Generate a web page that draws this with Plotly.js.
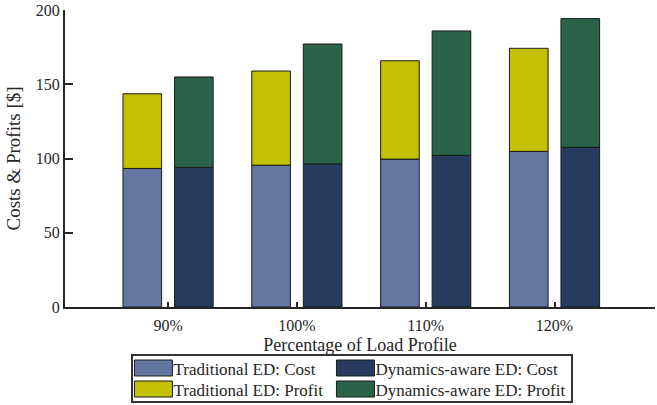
<!DOCTYPE html>
<html>
<head>
<meta charset="utf-8">
<script src="https://cdn.plot.ly/plotly-3.0.1.min.js"></script>
<style>html,body{margin:0;padding:0;background:#fff;}#chart{width:657px;height:405px;}</style>
</head>
<body>
<div id="chart"></div>
<script>
const categories = ["90%", "100%", "110%", "120%"];
const tradCost = [93.3, 95.5, 99.6, 104.8];
const tradProfit = [50.3, 63.4, 66.2, 69.4];
const dynCost = [94.0, 96.4, 102.1, 107.5];
const dynProfit = [60.9, 80.7, 83.8, 86.7];
const seriesNames = ["Traditional ED: Cost", "Dynamics-aware ED: Cost", "Traditional ED: Profit", "Dynamics-aware ED: Profit"];
const colors = ["#6477a0", "#273a60", "#c2c000", "#2a6349"];

const xIdx = categories.map((_, i) => i);
const W = 0.30, OFF_T = -0.35, OFF_D = 0.05;
const line = {color: "#1a1a1a", width: 1};

const traces = [
  {type: "bar", name: seriesNames[0], x: xIdx, y: tradCost, width: W, offset: OFF_T, marker: {color: colors[0], line: line}},
  {type: "bar", name: seriesNames[1], x: xIdx, y: dynCost, width: W, offset: OFF_D, marker: {color: colors[1], line: line}},
  {type: "bar", name: seriesNames[2], x: xIdx, y: tradProfit, base: tradCost, width: W, offset: OFF_T, marker: {color: colors[2], line: line}},
  {type: "bar", name: seriesNames[3], x: xIdx, y: dynProfit, base: dynCost, width: W, offset: OFF_D, marker: {color: colors[3], line: line}}
];

const font = "Liberation Serif, DejaVu Serif, serif";
const layout = {
  width: 657, height: 405,
  margin: {l: 65, r: 2, t: 10, b: 98, autoexpand: false},
  barmode: "overlay",
  showlegend: true,
  font: {family: font, color: "#262626"},
  paper_bgcolor: "#fff", plot_bgcolor: "#fff",
  xaxis: {
    range: [-0.8, 3.78],
    tickvals: xIdx, ticktext: categories,
    ticks: "inside", ticklen: 5, tickwidth: 2, tickcolor: "#262626",
    showline: true, linecolor: "#262626", linewidth: 2,
    showgrid: false, zeroline: false, automargin: false,
    ticklabelstandoff: 3,
    tickfont: {size: 16, family: font},
    title: {text: "Percentage of Load Profile", font: {size: 18, family: font}, standoff: 5}
  },
  yaxis: {
    range: [0, 200],
    tickvals: [0, 50, 100, 150, 200],
    ticks: "inside", ticklen: 8, tickwidth: 2, tickcolor: "#262626",
    showline: true, linecolor: "#262626", linewidth: 2,
    showgrid: false, zeroline: false, automargin: false,
    tickfont: {size: 16, family: font},
    title: {text: "Costs &amp; Profits [$]", font: {size: 19, family: font}, standoff: 10}
  },
  legend: {
    orientation: "h",
    x: 0.487, xanchor: "center",
    y: -0.325, yanchor: "bottom",
    traceorder: "normal",
    entrywidth: 157, entrywidthmode: "pixels",
    bgcolor: "#fff", bordercolor: "#333", borderwidth: 2,
    font: {size: 17, family: font, color: "#262626"},
    itemwidth: 30, tracegroupgap: 0
  }
};

// legend box geometry (page pixels)
const LEG_TOP = 355, LEG_PAD = 13, LEG_ROW = 21;

Plotly.newPlot("chart", traces, layout, {displayModeBar: false, staticPlot: true}).then(function (gd) {
  const leg = gd.querySelector(".legend");
  if (!leg) return;
  leg.querySelectorAll(".legendpoints path").forEach(function (p) {
    p.setAttribute("d", "M19,8H-19V-8H19Z");
  });
  leg.querySelectorAll("[clip-path]").forEach(function (e) { e.removeAttribute("clip-path"); });
  const bg = leg.querySelector("rect.bg");
  const items = Array.from(leg.querySelectorAll("g.traces"));
  const rowYs = [];
  let maxRight = 0;
  items.forEach(function (t) {
    const tm = /translate\(([-\d.]+),\s*([-\d.]+)\)/.exec(t.getAttribute("transform") || "");
    const tx = tm ? parseFloat(tm[1]) : 0, ty = tm ? parseFloat(tm[2]) : 0;
    if (rowYs.indexOf(ty) < 0) rowYs.push(ty);
    const txt = t.querySelector("text.legendtext");
    if (txt) maxRight = Math.max(maxRight, tx + parseFloat(txt.getAttribute("x") || 0) + txt.getComputedTextLength());
  });
  rowYs.sort(function (a, b) { return a - b; });
  if (!bg) return;
  const bgY = parseFloat(bg.getAttribute("y") || 0);
  items.forEach(function (t) {
    const tm = /translate\(([-\d.]+),\s*([-\d.]+)\)/.exec(t.getAttribute("transform") || "");
    if (!tm) return;
    const row = rowYs.indexOf(parseFloat(tm[2]));
    t.setAttribute("transform", "translate(" + tm[1] + "," + (bgY + LEG_PAD + row * LEG_ROW) + ")");
  });
  const oldW = parseFloat(bg.getAttribute("width"));
  const newW = maxRight + 6;
  bg.setAttribute("width", newW);
  bg.setAttribute("height", 2 * LEG_PAD + (rowYs.length - 1) * LEG_ROW);
  const lm = /translate\(([-\d.]+),\s*([-\d.]+)\)/.exec(leg.getAttribute("transform") || "");
  if (lm) {
    leg.setAttribute("transform", "translate(" + (parseFloat(lm[1]) - (newW - oldW) / 2) + "," + (LEG_TOP - bgY) + ")");
  }
});
</script>
</body>
</html>
